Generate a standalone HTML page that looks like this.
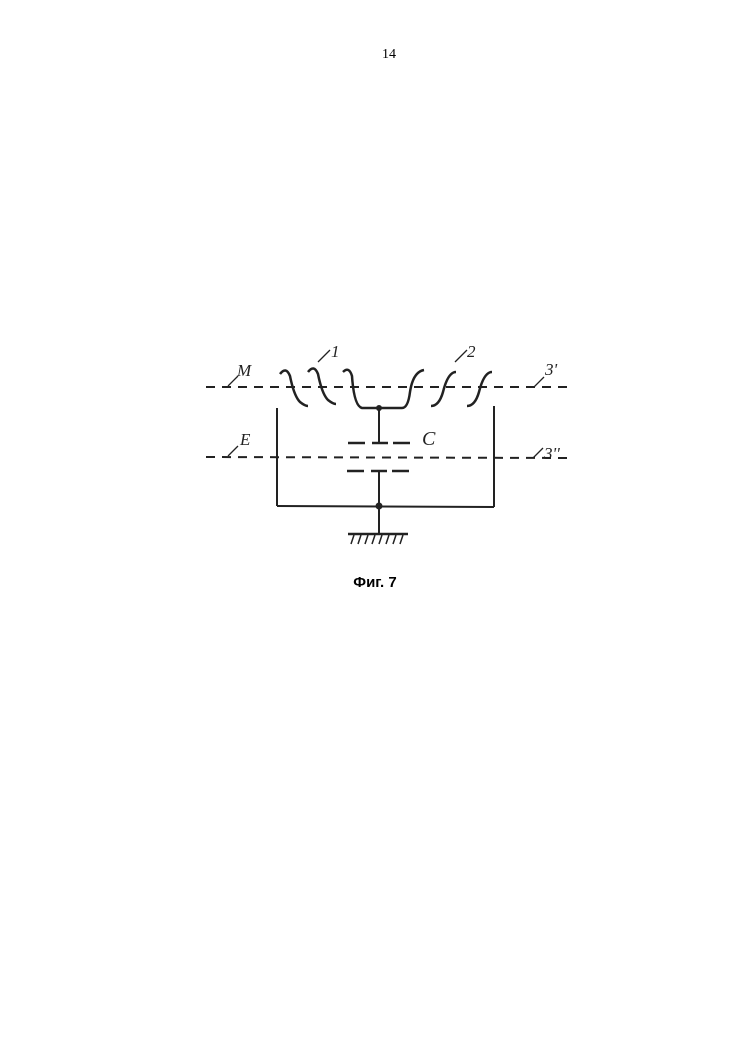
<!DOCTYPE html>
<html><head><style>body{margin:0;background:#fff}</style></head><body>
<svg width="744" height="1052" viewBox="0 0 744 1052" xmlns="http://www.w3.org/2000/svg">
<rect width="744" height="1052" fill="#fff"/>
<text x="389" y="58" font-family="Liberation Serif" font-size="14" text-anchor="middle">14</text>
<g stroke="#222" stroke-width="2" fill="none">
<line x1="206" y1="387" x2="568" y2="387" stroke-dasharray="9,7"/>
<line x1="206" y1="457" x2="568" y2="458" stroke-dasharray="9,7"/>
<line x1="277" y1="408" x2="277" y2="506"/>
<line x1="494" y1="406" x2="494" y2="507"/>
<line x1="277" y1="506" x2="494" y2="507"/>
<line x1="379" y1="408" x2="379" y2="442"/>
<line x1="379" y1="471" x2="379" y2="534"/>
<path d="M348 443h17M372 443h16M393 443h17M347 471h17M371 471h16M392 471h17" stroke-width="2.5"/>
<line x1="348" y1="534" x2="408" y2="534" stroke-width="2.5"/>
<path d="M351 544l3-9M358 544l3-9M365 544l3-9M372 544l3-9M379 544l3-9M386 544l3-9M393 544l3-9M400 544l3-9" stroke-width="1.5"/>
<g stroke-width="2.5">
<path d="M280 374 q6-8 10 2 q4 20 10 26 q5 4 8 4"/>
<path d="M308 372 q6-8 10 2 q4 20 10 26 q5 4 8 4"/>
<path d="M343 372 q6-6 9 4 q2 30 10 32 h40 q6 0 8-16 q3-20 14-22"/>
<path d="M431 406 q8 0 12-14 q5-20 13-20"/>
<path d="M467 406 q8 0 12-14 q5-20 13-20"/>
</g>
<path d="M228 386 l10-10 M318 362 l12-12 M455 362 l12-12 M534 387 l10-10 M228 456 l10-10 M533 458 l10-10" stroke-width="1.3"/>
</g>
<circle cx="379" cy="408" r="3" fill="#222"/>
<circle cx="379" cy="506" r="3.5" fill="#222"/>
<g font-family="Liberation Serif" font-style="italic" font-size="17" fill="#222">
<text x="237" y="376">M</text><text x="331" y="357">1</text><text x="467" y="357">2</text>
<text x="545" y="375">3'</text><text x="240" y="445">E</text><text x="422" y="445" font-size="20">C</text>
<text x="544" y="459">3''</text></g>
<text x="375" y="587" font-family="Liberation Sans" font-weight="bold" font-size="15" text-anchor="middle">Фиг. 7</text>
</svg>
</body></html>
